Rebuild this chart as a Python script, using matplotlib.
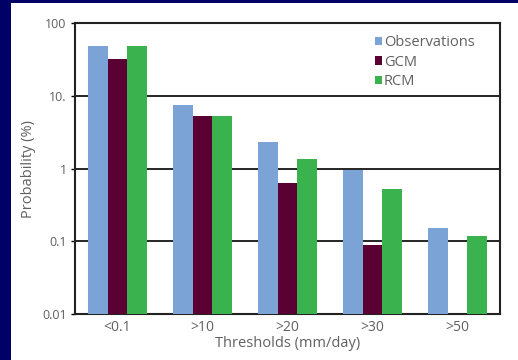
import numpy as np
import matplotlib.pyplot as plt
from matplotlib.patches import Rectangle

categories = ['<0.1', '>10', '>20', '>30', '>50']
observations = [49, 7.5, 2.3, 0.93, 0.142]
gcm = [31.6, 5.2, 0.62, 0.079, 0]
rcm = [49, 5.2, 1.33, 0.51, 0.109]

series = [('Observations', observations, '#7ba3d6'),
          ('GCM', gcm, '#5a0033'),
          ('RCM', rcm, '#3ab24e')]

plt.rcParams['font.family'] = ['Open Sans', 'DejaVu Sans']
text_col = '#606060'
navy = '#000066'

fig = plt.figure(figsize=(5.18, 3.6), dpi=100, facecolor='white')
# navy strips on the left and top edges only
fig.patches.append(Rectangle((0, 0), 11 / 518, 1, transform=fig.transFigure,
                             facecolor=navy, edgecolor='none', zorder=-5))
fig.patches.append(Rectangle((0, 1 - 3 / 360), 1, 3 / 360, transform=fig.transFigure,
                             facecolor=navy, edgecolor='none', zorder=-5))
ax = fig.add_axes([75 / 518, 1 - 314 / 360, 425 / 518, 291 / 360])

x = np.arange(len(categories)) + 0.5
w = 0.235
for k, (name, vals, col) in enumerate(series):
    vals = np.array(vals, dtype=float)
    vals[vals <= 0] = np.nan
    ax.bar(x + (k - 1) * w, vals, w, bottom=0.01, color=col, label=name, zorder=3)

ax.set_yscale('log')
ax.set_ylim(0.01, 100)
ax.set_xlim(0, 5)
ax.set_yticks([0.01, 0.1, 1, 10, 100])
ax.set_yticklabels(['0.01', '0.1', '1', '10.', '100'])
ax.minorticks_off()
ax.set_xticks(x)
ax.set_xticklabels(categories)
for v in [0.1, 1, 10]:
    ax.axhline(v, color='black', lw=1.2, zorder=1)

ax.tick_params(axis='y', length=3, width=1, pad=3, labelsize=9, labelcolor=text_col)
ax.tick_params(axis='x', length=0, pad=4, labelsize=10, labelcolor=text_col)
for s in ax.spines.values():
    s.set_linewidth(1.5)
    s.set_color('#222222')

ax.set_xlabel('Thresholds (mm/day)', fontsize=10.5, color=text_col, labelpad=1)
ax.set_ylabel('Probability (%)', fontsize=10.5, color=text_col, labelpad=4)

leg = ax.legend(loc='upper left', bbox_to_anchor=(0.705, 0.958), frameon=False,
                fontsize=10.5, handlelength=0.5, handleheight=0.5, handletextpad=0.15,
                labelspacing=0.3, borderpad=0, borderaxespad=0)
for t in leg.get_texts():
    t.set_color(text_col)

fig.savefig('out.png', dpi=100, facecolor=fig.get_facecolor())
